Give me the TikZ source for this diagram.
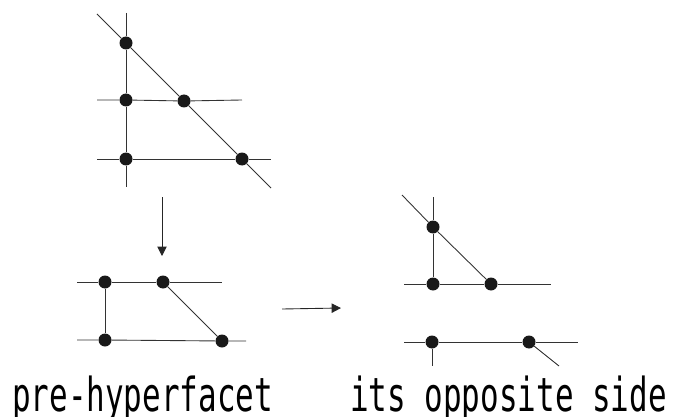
\documentclass[tikz,border=0pt]{standalone}
\usepackage{fontspec}
\newfontfamily\captionfont[FakeStretch=0.66]{DejaVu Sans Mono}
\usetikzlibrary{arrows.meta}
\begin{document}
\begin{tikzpicture}[x=0.3mm, y=-0.3mm,
  dot/.style={circle,fill=black!90,inner sep=0pt,minimum size=3.9mm},
  ln/.style={black!80,line width=0.75pt},
  step arrow/.style={black!85,line width=0.75pt,-{Triangle[length=8pt,width=8pt]}},
  caption/.style={anchor=base west,inner sep=0pt,font=\captionfont\fontsize{40pt}{40pt}\selectfont}]
\useasboundingbox (0,0) rectangle (675,417);
% top figure
\node[dot] (t1) at (126,43) {};
\node[dot] (t2) at (126,100) {};
\node[dot] (t3) at (184,101) {};
\node[dot] (t4) at (126,159) {};
\node[dot] (t5) at (242,159) {};
\coordinate (tvu) at (126,13);
\coordinate (tvd) at (126,187);
\coordinate (tdu) at (97,14);
\coordinate (tdd) at (271,188);
\coordinate (tml) at (97,100);
\coordinate (tmr) at (242,100);
\coordinate (tbl) at (97,159);
\coordinate (tbr) at (271,159);
\draw[ln] (tvu) -- (t1) -- (t2) -- (t4) -- (tvd);
\draw[ln] (tdu) -- (t1) -- (t3) -- (t5) -- (tdd);
\draw[ln] (tml) -- (t2) -- (t3) -- (tmr);
\draw[ln] (tbl) -- (t4) -- (t5) -- (tbr);
% down arrow
\coordinate (da) at (162,197);
\coordinate (db) at (162,256);
\draw[step arrow] (da) -- (db);
% bottom left figure
\node[dot] (b1) at (105,282) {};
\node[dot] (b2) at (163,282) {};
\node[dot] (b3) at (105,340) {};
\node[dot] (b4) at (222,341) {};
\coordinate (bul) at (77,282);
\coordinate (bur) at (222,282);
\coordinate (bdl) at (77,340);
\coordinate (bdr) at (246,341);
\draw[ln] (bul) -- (b1) -- (b2) -- (bur);
\draw[ln] (bdl) -- (b3) -- (b4) -- (bdr);
\draw[ln] (b1) -- (b3);
\draw[ln] (b2) -- (b4);
% right arrow
\coordinate (ra) at (282,309);
\coordinate (rb) at (341,308);
\draw[step arrow] (ra) -- (rb);
% right figure
\node[dot] (r1) at (433,227) {};
\node[dot] (r2) at (433,284) {};
\node[dot] (r3) at (491,284) {};
\node[dot] (r4) at (432,342) {};
\node[dot] (r5) at (529,342) {};
\coordinate (rvu) at (433,197);
\coordinate (rdu) at (402,195);
\coordinate (rml) at (404,284);
\coordinate (rmr) at (551,284);
\coordinate (rbl) at (404,342);
\coordinate (rbr) at (578,342);
\coordinate (rvd) at (432,366);
\coordinate (rdd) at (559,366);
\draw[ln] (rvu) -- (r1) -- (r2);
\draw[ln] (rdu) -- (r1) -- (r3);
\draw[ln] (rml) -- (r2) -- (r3) -- (rmr);
\draw[ln] (rbl) -- (r4) -- (r5) -- (rbr);
\draw[ln] (r4) -- (rvd);
\draw[ln] (r5) -- (rdd);
% captions
\node[caption] (capl) at (12,411) {pre-hyperfacet};
\node[caption] (capr) at (350,411) {its opposite side};
\end{tikzpicture}
\end{document}
